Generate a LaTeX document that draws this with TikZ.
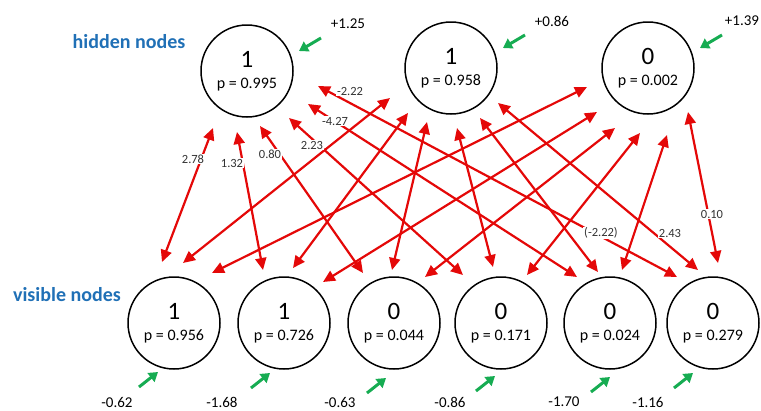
\documentclass[tikz,border=0pt]{standalone}
\usepackage{fontspec}
\setmainfont{Carlito}
\usetikzlibrary{arrows.meta,calc}
\definecolor{edgered}{RGB}{228,8,8}
\definecolor{biasgreen}{RGB}{22,172,82}
\definecolor{titleblue}{RGB}{32,112,182}
\tikzset{
  unit/.style={circle,draw=black,line width=1.5pt,minimum size=92pt,inner sep=0pt,align=center},
  wedge/.style={{Triangle[length=12pt,width=11pt]}-{Triangle[length=12pt,width=11pt]},line width=2.2pt,draw=edgered},
  biasflow/.style={-{Triangle[length=9pt,width=11pt]},line width=3pt,draw=biasgreen},
  wlabel/.style={font=\fontsize{12.5}{13}\selectfont,fill=white,inner sep=1pt,text=black!80},
  blabel/.style={font=\fontsize{15}{16}\selectfont,text=black},
  layertitle/.style={font=\fontsize{20}{22}\selectfont\bfseries,text=titleblue}
}
\newcommand{\unitstate}[2]{{\fontsize{25}{26}\selectfont #1}\\[9pt]{\fontsize{16}{17}\selectfont p = #2}}

\begin{document}
\begin{tikzpicture}[x=1pt,y=-1pt]
  \useasboundingbox (0,0) rectangle (761,410);
  % layer titles
  \node[layertitle] (hidtitle) at (129,42) {hidden nodes};
  \node[layertitle] (vistitle) at (67,295) {visible nodes};
  % units
  \node[unit] (h1) at (247,71) {\unitstate{1}{0.995}};
  \node[unit] (h2) at (451,68) {\unitstate{1}{0.958}};
  \node[unit] (h3) at (648,68) {\unitstate{0}{0.002}};
  \node[unit] (v1) at (174,323) {\unitstate{1}{0.956}};
  \node[unit] (v2) at (284,323) {\unitstate{1}{0.726}};
  \node[unit] (v3) at (394,323) {\unitstate{0}{0.044}};
  \node[unit] (v4) at (501,323) {\unitstate{0}{0.171}};
  \node[unit] (v5) at (610,323) {\unitstate{0}{0.024}};
  \node[unit] (v6) at (713,323) {\unitstate{0}{0.279}};
  % weights, hidden end and visible end offsets
  \foreach \h/\v/\hx/\hy/\vx/\vy in {
      1/1/-34/57/-12/-61, 1/2/-10/61/-21/-53, 1/3/13/55/-31/-50,
      1/4/42/47/-38/-48, 1/5/61/33/-33/-46, 1/6/71/15/-36/-46,
      2/1/-61/30/9/-60, 2/2/-43/45/9/-55, 2/3/-24/54/-2/-53,
      2/4/6/60/-8/-56, 2/5/29/50/-12/-51, 2/6/47/35/-15/-53,
      3/1/-61/19/38/-50, 3/2/-51/44/39/-41, 3/3/-33/60/31/-46,
      3/4/-8/65/26/-48, 3/5/19/67/12/-53, 3/6/40/44/5/-60}
    \draw[wedge] ($(h\h)+(\hx,\hy)$) -- ($(v\v)+(\vx,\vy)$);
  \foreach \n/\x/\y/\w in {a/193/159/2.78, b/232/163/1.32, c/270/154/0.80,
      d/312/145/2.23, e/335/121/-4.27, f/350/91/-2.22,
      g/601/233/{(-2.22)}, h/670/233/2.43, i/712/214/0.10}
    \node[wlabel] (w\n) at (\x,\y) {\w};
  % biases
  \foreach \h/\b/\lx in {1/+1.25/101, 2/+0.86/101, 3/+1.39/94}{
    \draw[biasflow] ($(h\h)+(74,-33)$) -- ($(h\h)+(52,-20)$);
    \node[blabel] (bh\h) at ($(h\h)+(\lx,-47)$) {\b};
  }
  \foreach \v/\b/\tx/\ty/\lx in {1/-0.62/-16/49/-57, 2/-1.68/-14/50/-62,
      3/-0.63/-8/55/-54, 4/-0.86/-6/53/-51, 5/-1.70/0/54/-46, 6/-1.16/-20/50/-65}{
    \draw[biasflow] ($(v\v)+(\tx,\ty)+(-19,15)$) -- ($(v\v)+(\tx,\ty)$);
    \node[blabel] (bv\v) at ($(v\v)+(\lx,79)$) {\b};
  }
\end{tikzpicture}
\end{document}
